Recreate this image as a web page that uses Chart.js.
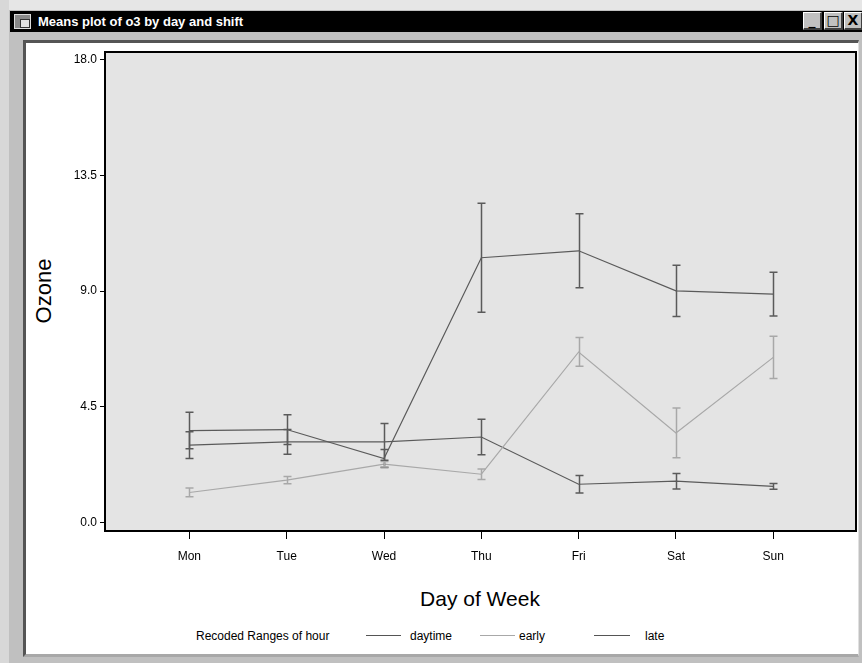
<!DOCTYPE html>
<html>
<head>
<meta charset="utf-8">
<script src="https://cdn.jsdelivr.net/npm/chart.js@4"></script>
<style>
  html, body { margin:0; padding:0; }
  body { width:862px; height:663px; position:relative; overflow:hidden; background:#c0c0c0; font-family:"Liberation Sans", Arial, sans-serif; }
  .abs { position:absolute; }
  #topstrip { left:0; top:0; width:862px; height:10px; background:#e6e6e6; }
  #leftstrip { left:0; top:0; width:9px; height:663px; background:#d8d8d8; }
  #titlebar { left:10px; top:11px; width:852px; height:21px; background:#000; }
  #titletext { left:38px; top:13px; color:#fff; font:bold 13px "Liberation Sans", Arial, sans-serif; line-height:17px; white-space:nowrap; }
  #icon { left:14px; top:14px; width:17px; height:15px; background:#8a8a8a; border:1px solid #ddd; box-sizing:border-box; }
  #icon2 { left:20px; top:19px; width:10px; height:9px; background:#e0e0e0; border:1px solid #333; box-sizing:border-box; }
  .btn { top:12px; width:19px; height:18px; background:#c0c0c0; border-top:1px solid #fff; border-left:1px solid #fff; border-right:2px solid #404040; border-bottom:2px solid #404040; box-sizing:border-box; font:bold 14px "DejaVu Sans", sans-serif; color:#000; text-align:center; line-height:15px; }
  #panel { left:23px; top:40px; width:836px; height:617px; background:#fff; border-left:3px solid #555; border-top:3px solid #555; border-right:1px solid #e0e0e0; border-bottom:3px solid #a8a8a8; box-sizing:border-box; }
  #ytitle { left:44px; top:291px; transform:translate(-50%,-50%) rotate(-90deg); font-size:22px; color:#000; white-space:nowrap; }
  #xtitle { left:480px; top:599px; transform:translate(-50%,-50%); font-size:21px; color:#000; white-space:nowrap; }
  .leg { top:636px; transform:translateY(-50%); font:12px "Liberation Sans", Arial, sans-serif; color:#000; white-space:nowrap; }
  .legline { top:635px; height:0; border-top:1px solid #555; }
  #chartwrap { left:0; top:0; width:862px; height:663px; }
</style>
</head>
<body>
<div class="abs" id="topstrip"></div>
<div class="abs" id="leftstrip"></div>
<div class="abs" id="titlebar"></div>
<div class="abs" id="icon"></div>
<div class="abs" id="icon2"></div>
<div class="abs" id="titletext">Means plot of o3 by day and shift</div>
<div class="abs btn" style="left:803px;">_</div>
<div class="abs btn" style="left:824px;">□</div>
<div class="abs btn" style="left:844px;">X</div>
<div class="abs" id="panel"></div>
<div class="abs" id="ytitle">Ozone</div>
<div class="abs" id="xtitle">Day of Week</div>
<div class="abs leg" style="left:196px;">Recoded Ranges of hour</div>
<div class="abs legline" style="left:366px;width:35px;border-top-color:#555;"></div>
<div class="abs leg" style="left:410px;">daytime</div>
<div class="abs legline" style="left:480px;width:35px;border-top-color:#a8a8a8;"></div>
<div class="abs leg" style="left:519px;">early</div>
<div class="abs legline" style="left:594px;width:36px;border-top-color:#555;"></div>
<div class="abs leg" style="left:645px;">late</div>
<div class="abs" id="chartwrap"><canvas id="c" width="862" height="663"></canvas></div>
<script>
// ---- data ----
const days = ['Mon', 'Tue', 'Wed', 'Thu', 'Fri', 'Sat', 'Sun'];
const yTicks = [0, 4.5, 9, 13.5, 18];
const daytimeMean = [3.57, 3.61, 2.48, 10.30, 10.57, 9.01, 8.88];
const daytimeErr  = [0.71, 0.58, 0.35, 2.12, 1.44, 1.00, 0.85];
const earlyMean   = [1.16, 1.64, 2.26, 1.87, 6.63, 3.48, 6.42];
const earlyErr    = [0.17, 0.14, 0.11, 0.20, 0.56, 0.97, 0.82];
const lateMean    = [3.00, 3.13, 3.13, 3.32, 1.48, 1.60, 1.40];
const lateErr     = [0.52, 0.48, 0.72, 0.69, 0.34, 0.30, 0.11];
const seriesNames = ['daytime', 'early', 'late'];
// ------------------------------------

const DARK = '#5a5a5a', LIGHT = '#a8a8a8';
const tickFont = { family: '"Liberation Sans", Arial, sans-serif', size: 12 };

function pts(arr) { return arr.map((v, i) => ({ x: i + 1, y: v })); }

const errs = [daytimeErr, earlyErr, lateErr];

const bgPlugin = {
  id: 'bg',
  beforeDraw(chart) {
    const { ctx, chartArea: a } = chart;
    ctx.save();
    ctx.fillStyle = '#e4e4e4';
    ctx.fillRect(a.left, a.top, a.right - a.left, a.bottom - a.top);
    ctx.restore();
  },
  afterDraw(chart) {
    const { ctx, chartArea: a } = chart;
    ctx.save();
    ctx.strokeStyle = '#000';
    ctx.lineWidth = 2;
    ctx.strokeRect(a.left, a.top, a.right - a.left, a.bottom - a.top);
    ctx.restore();
  }
};

const errPlugin = {
  id: 'errbars',
  afterDatasetsDraw(chart) {
    const { ctx, scales: { x, y } } = chart;
    ctx.save();
    chart.data.datasets.forEach((ds, di) => {
      const e = errs[di];
      ctx.strokeStyle = ds.borderColor;
      ctx.lineWidth = 1.5;
      ds.data.forEach((p, i) => {
        const px = Math.round(x.getPixelForValue(p.x)) + 0.5;
        const yt = y.getPixelForValue(p.y + e[i]);
        const yb = y.getPixelForValue(p.y - e[i]);
        ctx.beginPath();
        ctx.moveTo(px, yt); ctx.lineTo(px, yb);
        ctx.moveTo(px - 4, yt); ctx.lineTo(px + 4, yt);
        ctx.moveTo(px - 4, yb); ctx.lineTo(px + 4, yb);
        ctx.stroke();
      });
    });
    ctx.restore();
  }
};

new Chart(document.getElementById('c'), {
  type: 'line',
  data: {
    datasets: [
      { label: seriesNames[0], data: pts(daytimeMean), borderColor: DARK, borderWidth: 1.2, pointRadius: 0, tension: 0 },
      { label: seriesNames[1], data: pts(earlyMean), borderColor: LIGHT, borderWidth: 1.2, pointRadius: 0, tension: 0 },
      { label: seriesNames[2], data: pts(lateMean), borderColor: DARK, borderWidth: 1.2, pointRadius: 0, tension: 0 }
    ]
  },
  options: {
    responsive: false,
    animation: false,
    layout: { padding: { left: 0, right: 6, top: 52, bottom: 92 } },
    plugins: { legend: { display: false }, tooltip: { enabled: false } },
    scales: {
      x: {
        type: 'linear', min: 0.133, max: 7.85,
        afterBuildTicks: s => { s.ticks = days.map((d, i) => ({ value: i + 1 })); },
        afterFit: s => { s.height = 40; },
        ticks: { callback: v => days[v - 1], font: tickFont, color: '#000', padding: 10, maxRotation: 0, autoSkip: false },
        grid: { display: true, drawOnChartArea: false, drawTicks: true, tickLength: 8, color: '#000', lineWidth: 1 },
        border: { display: false }
      },
      y: {
        type: 'linear', min: -0.34, max: 18.31,
        afterBuildTicks: s => { s.ticks = yTicks.map(v => ({ value: v })); },
        afterFit: s => { s.width = 105; },
        ticks: { callback: v => Number(v).toFixed(1), font: tickFont, color: '#000', padding: 3, autoSkip: false },
        grid: { display: true, drawOnChartArea: false, drawTicks: true, tickLength: 5, color: '#000', lineWidth: 1 },
        border: { display: false }
      }
    }
  },
  plugins: [bgPlugin, errPlugin]
});
</script>
</body>
</html>
